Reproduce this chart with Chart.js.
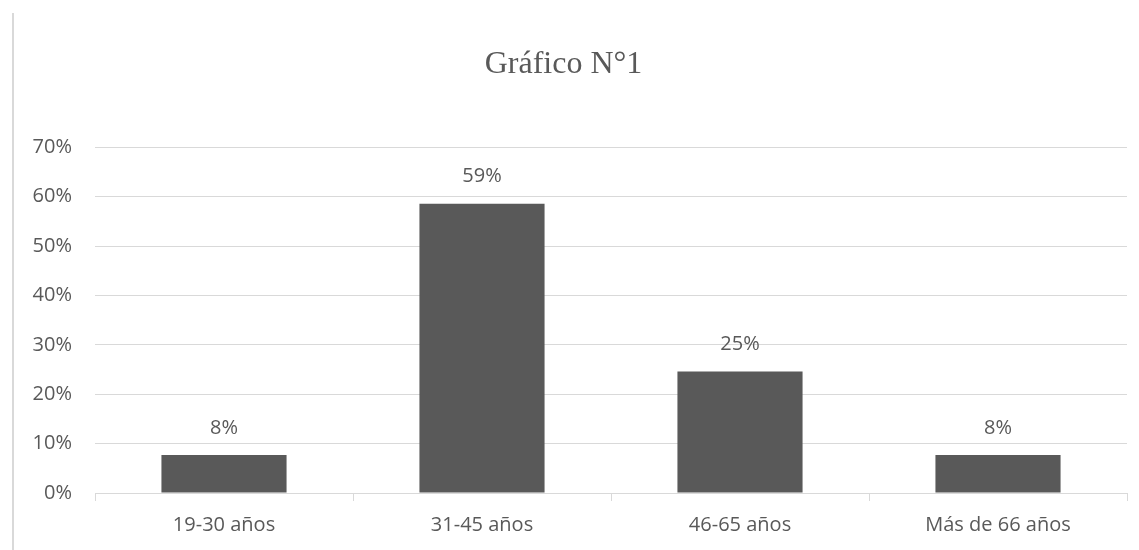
<!DOCTYPE html>
<html>
<head>
<meta charset="utf-8">
<script src="https://cdn.jsdelivr.net/npm/chart.js@4.4.1/dist/chart.umd.min.js"></script>
<style>
  html, body { margin: 0; padding: 0; background: #fff; }
  #wrap { position: relative; width: 1139px; height: 550px; }
  #frame { position: absolute; left: 12px; top: 13px; bottom: 0; border-left: 2px solid #d9d9d9; }
</style>
</head>
<body>
<div id="wrap">
  <div id="frame"></div>
  <canvas id="bar-graph" width="1139" height="550"></canvas>
</div>
<script>
// chart data
var categories = ['19-30 años', '31-45 años', '46-65 años', 'Más de 66 años'];
var percents = [7.7, 58.6, 24.6, 7.7];
var yTicks = [0, 10, 20, 30, 40, 50, 60, 70];

var textColor = '#595959';
var gridColor = '#d9d9d9';
var sansFont = "'Open Sans', sans-serif";

// labels above the bars (no datalabels plugin available)
var barLabels = {
    id: 'barLabels',
    afterDatasetsDraw: function(chart) {
        var ctx = chart.ctx;
        var meta = chart.getDatasetMeta(0);
        ctx.save();
        ctx.font = '20px ' + sansFont;
        ctx.fillStyle = textColor;
        ctx.textAlign = 'center';
        ctx.textBaseline = 'middle';
        meta.data.forEach(function(bar, i) {
            ctx.fillText(Math.round(percents[i]) + '%', bar.x, bar.y - 27);
        });
        ctx.restore();
    }
};

const chart_ctx = document.getElementById('bar-graph').getContext('2d');

var bar_graph = new Chart(chart_ctx, {
    type: 'bar',
    data: {
        labels: categories,
        datasets: [{
            data: percents,
            backgroundColor: '#595959',
            borderWidth: 0,
            barPercentage: 0.485,
            categoryPercentage: 1
        }]
    },
    options: {
        responsive: false,
        animation: false,
        layout: { padding: { left: 0, right: 12, top: 0, bottom: 1 } },
        plugins: {
            legend: { display: false },
            tooltip: { enabled: false },
            title: {
                display: true,
                text: 'Gráfico N°1',
                color: textColor,
                font: { family: "'Liberation Serif', serif", size: 32, weight: 'normal' },
                padding: { top: 45, bottom: 64 }
            }
        },
        scales: {
            x: {
                grid: {
                    drawOnChartArea: false,
                    drawTicks: true,
                    tickLength: 8,
                    color: gridColor
                },
                border: { color: gridColor, width: 1 },
                ticks: {
                    color: textColor,
                    font: { family: sansFont, size: 20 },
                    padding: 12
                }
            },
            y: {
                min: 0,
                max: 70,
                afterFit: function(scale) { scale.width = 95; },
                afterBuildTicks: function(scale) {
                    scale.ticks = yTicks.map(function(v) { return { value: v }; });
                },
                grid: { color: gridColor, drawTicks: false },
                border: { display: false },
                ticks: {
                    color: textColor,
                    font: { family: sansFont, size: 20 },
                    padding: 23,
                    callback: function(v) { return v + '%'; }
                }
            }
        }
    },
    plugins: [barLabels]
});
</script>
</body>
</html>
